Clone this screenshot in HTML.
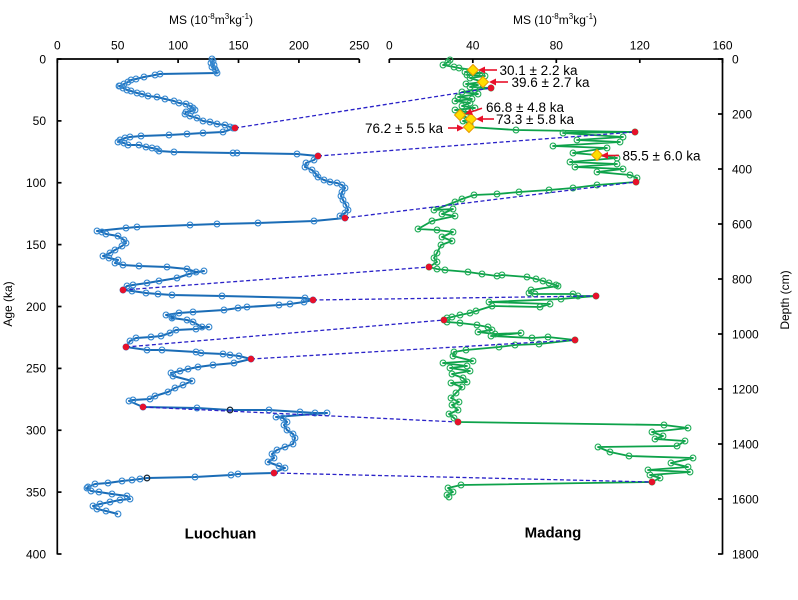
<!DOCTYPE html>
<html><head><meta charset="utf-8">
<style>
html,body{margin:0;padding:0;background:#fff;}
svg{display:block;font-family:"Liberation Sans",Arial,sans-serif;}
</style></head>
<body>
<svg width="798" height="600" viewBox="0 0 798 600" xmlns="http://www.w3.org/2000/svg">
<defs>
<marker id="mb" markerUnits="userSpaceOnUse" markerWidth="9" markerHeight="9" refX="4.5" refY="4.5" viewBox="0 0 9 9">
<circle cx="4.5" cy="4.5" r="2.9" fill="none" stroke="#3688d0" stroke-width="1.1"/>
</marker>
<marker id="mg" markerUnits="userSpaceOnUse" markerWidth="9" markerHeight="9" refX="4.5" refY="4.5" viewBox="0 0 9 9">
<circle cx="4.5" cy="4.5" r="2.9" fill="none" stroke="#22ad58" stroke-width="1.1"/>
</marker>
</defs>
<rect width="798" height="600" fill="#fff"/>

<!-- Titles -->
<text x="211" y="24" font-size="12" text-anchor="middle">MS (10<tspan font-size="8" dy="-5">-8</tspan><tspan dy="5">m</tspan><tspan font-size="8" dy="-5">3</tspan><tspan dy="5">kg</tspan><tspan font-size="8" dy="-5">-1</tspan><tspan dy="5">)</tspan></text>
<text x="555" y="24" font-size="12" text-anchor="middle">MS (10<tspan font-size="8" dy="-5">-8</tspan><tspan dy="5">m</tspan><tspan font-size="8" dy="-5">3</tspan><tspan dy="5">kg</tspan><tspan font-size="8" dy="-5">-1</tspan><tspan dy="5">)</tspan></text>
<text transform="translate(12,304) rotate(-90)" font-size="12" text-anchor="middle">Age (ka)</text>
<text transform="translate(789,300) rotate(-90)" font-size="12" text-anchor="middle">Depth (cm)</text>

<!-- Axes -->
<g stroke="#000" stroke-width="1.7" fill="none">
<line x1="57.3" y1="59" x2="359.3" y2="59"/>
<line x1="57.3" y1="58.2" x2="57.3" y2="554.5"/>
<line x1="389.3" y1="59" x2="723.3" y2="59"/>
<line x1="722.5" y1="58.2" x2="722.5" y2="554.5"/>
<line x1="57.3" y1="59" x2="57.3" y2="63"/>
<line x1="117.7" y1="59" x2="117.7" y2="63"/>
<line x1="178.1" y1="59" x2="178.1" y2="63"/>
<line x1="238.5" y1="59" x2="238.5" y2="63"/>
<line x1="298.9" y1="59" x2="298.9" y2="63"/>
<line x1="359.3" y1="59" x2="359.3" y2="63"/>
<line x1="389.3" y1="59" x2="389.3" y2="63"/>
<line x1="472.8" y1="59" x2="472.8" y2="63"/>
<line x1="556.3" y1="59" x2="556.3" y2="63"/>
<line x1="639.8" y1="59" x2="639.8" y2="63"/>
<line x1="722.5" y1="59" x2="722.5" y2="63"/>
<line x1="57.3" y1="59" x2="61.5" y2="59"/>
<line x1="57.3" y1="120.9" x2="61.5" y2="120.9"/>
<line x1="57.3" y1="182.75" x2="61.5" y2="182.75"/>
<line x1="57.3" y1="244.6" x2="61.5" y2="244.6"/>
<line x1="57.3" y1="306.5" x2="61.5" y2="306.5"/>
<line x1="57.3" y1="368.4" x2="61.5" y2="368.4"/>
<line x1="57.3" y1="430.25" x2="61.5" y2="430.25"/>
<line x1="57.3" y1="492.1" x2="61.5" y2="492.1"/>
<line x1="57.3" y1="554" x2="61.5" y2="554"/>
<line x1="718" y1="59" x2="722.5" y2="59"/>
<line x1="718" y1="114" x2="722.5" y2="114"/>
<line x1="718" y1="169" x2="722.5" y2="169"/>
<line x1="718" y1="224" x2="722.5" y2="224"/>
<line x1="718" y1="279" x2="722.5" y2="279"/>
<line x1="718" y1="334" x2="722.5" y2="334"/>
<line x1="718" y1="389" x2="722.5" y2="389"/>
<line x1="718" y1="444" x2="722.5" y2="444"/>
<line x1="718" y1="499" x2="722.5" y2="499"/>
<line x1="718" y1="554" x2="722.5" y2="554"/>
</g>

<!-- tick labels -->
<g font-size="12" text-anchor="middle" fill="#000">
<text x="57.3" y="49.5">0</text>
<text x="117.7" y="49.5">50</text>
<text x="178.1" y="49.5">100</text>
<text x="238.5" y="49.5">150</text>
<text x="298.9" y="49.5">200</text>
<text x="359.3" y="49.5">250</text>
<text x="389.3" y="49.5">0</text>
<text x="472.8" y="49.5">40</text>
<text x="556.3" y="49.5">80</text>
<text x="639.8" y="49.5">120</text>
<text x="722.5" y="49.5">160</text>
</g>
<g font-size="12" text-anchor="end" fill="#000">
<text x="46" y="63.3">0</text>
<text x="46" y="125.2">50</text>
<text x="46" y="187">100</text>
<text x="46" y="248.9">150</text>
<text x="46" y="310.8">200</text>
<text x="46" y="372.7">250</text>
<text x="46" y="434.5">300</text>
<text x="46" y="496.4">350</text>
<text x="46" y="558.3">400</text>
</g>
<g font-size="12" text-anchor="start" fill="#000">
<text x="732" y="63.3">0</text>
<text x="732" y="118.3">200</text>
<text x="732" y="173.3">400</text>
<text x="732" y="228.3">600</text>
<text x="732" y="283.3">800</text>
<text x="732" y="338.3">1000</text>
<text x="732" y="393.3">1200</text>
<text x="732" y="448.3">1400</text>
<text x="732" y="503.3">1600</text>
<text x="732" y="558.3">1800</text>
</g>

<!-- Luochuan series -->
<polyline fill="none" stroke="#1a6cb6" stroke-width="2" stroke-linejoin="round" marker-start="url(#mb)" marker-mid="url(#mb)" marker-end="url(#mb)" points="
212,59 213,61 211,63 214,65 212,67 215,69 216,71 217,73
160,74 155,75 144,77 136,79 131,80 128,82 124,84 120,86 119,86
123,88 127,90 131,91 137,93 142,94 148,96 157,97 165,99 174,101 179,103 186,104 190,106 193,108 195,110 192,111 186,112 185,114 190,116 197,118 203,121 210,122 217,124 225,125 230,127 233,128 235,128
223,132 203,133 187,134 169,135 141,136 130,137 125,138 120,140 118,142 124,143 128,145 139,145 146,147 152,148 157,149 159,151 174,152 233,153 237,153 297,154 318,156
314,160 306,163 305,167 312,170 316,174 318,177 324,180 330,182 337,183 342,185 345,188 342,192 341,196 343,200 346,205 348,210 345,213 340,216 345,218
314,221 258,223 217,224 190,225 137,227 126,228 97,231
102,232 106,234 118,236 124,240 126,243 122,246 115,250 110,253 103,256 109,258 118,260 115,263 123,265 139,266 167,267 187,269 196,272 204,271 189,274 177,278 159,281 147,283 133,285 127,286 123,290
132,291 146,293 158,294 172,295 222,296 305,298 313,300
304,302 290,304 279,305 247,307 238,308 224,310 193,312 179,313 166,315 173,317 172,318 187,320 193,322 202,327 209,327 196,329 176,330 170,333 161,336 151,337 136,338 130,341 126,347
147,350 162,350 196,352 201,353 223,354 230,355 239,356 251,359
234,363 213,365 198,367 188,369 180,371 171,373 173,376 192,381 183,385 175,388 168,392 155,396 150,399 133,400 129,401 143,407
197,408 230,410 269,410 300,412 315,413 327,413
276,417 283,418 287,422 284,425 287,430 293,434 295,438 293,444 285,447 277,450 272,454 274,458 268,462 279,466 285,468 274,473
238,474 231,475 195,477 147,478 140,479 132,480 122,481 108,483 95,484 88,487 87,488 91,491 99,492 112,494 127,496 130,499 120,500 110,502 100,504 93,506 97,509 106,511 118,514"/>
<circle cx="230" cy="410" r="2.8" fill="none" stroke="#222" stroke-width="1.1"/>
<circle cx="147" cy="478" r="2.8" fill="none" stroke="#222" stroke-width="1.1"/>

<!-- Madang series -->
<polyline fill="none" stroke="#0da24a" stroke-width="1.8" stroke-linejoin="round" marker-start="url(#mg)" marker-mid="url(#mg)" marker-end="url(#mg)" points="
450,60 448,62 443,65 454,67 459,68 473,70
465,72 482,73 467,75 485,76 470,78 483,82 466,84 478,85 470,87 491,88
475,90 462,92 478,94 458,97 472,99 455,101 470,103 462,106 475,108 455,110 468,112 460,115 471,119 463,121 470,124 469,127
516,130 635,132
563,133 623,137 577,140 620,142 553,146 607,148 573,153 597,155 617,158 570,162 617,164 575,167 623,169 597,172 630,175 637,178 636,182
597,185 573,188 549,190 519,192 497,194 474,195 462,199 455,202 434,210 453,209 442,214 455,216 432,221 418,229 437,230 453,232 442,237 452,241 441,245 437,253 434,258 437,262 429,267
437,269 445,270 468,272 482,274 497,276 502,275 527,277 536,279 543,281 549,283 556,285 558,286 531,290 529,293 535,294 573,294 578,296 596,296
561,299 489,302 550,304 540,307 492,306 476,311 470,313 460,315 452,317 447,318 444,320
447,322 460,323 477,325 488,327 492,330 478,332 495,334 521,333 491,336 532,338 548,337 575,340
539,344 515,345 499,347 466,350 454,352 453,356 473,361 443,363 467,366 450,368 470,371 452,374 463,378 467,382 451,383 462,387 456,393 451,398 459,402 452,405 458,410 449,414 454,418 458,422
664,425 688,428 652,432 663,436 655,439 685,441 677,446 598,447 610,452 629,456 693,458 671,463 688,467 648,470 690,472 650,475 660,478 652,482
461,485 448,488 453,492 447,495 449,497"/>

<!-- dashed tie lines -->
<g stroke="#2a22c8" stroke-width="1.3" stroke-dasharray="4,2.5" fill="none">
<line x1="235" y1="128" x2="491" y2="88"/>
<line x1="318" y1="156" x2="635" y2="132"/>
<line x1="345" y1="218" x2="636" y2="182"/>
<line x1="123" y1="290" x2="429" y2="267"/>
<line x1="313" y1="300" x2="596" y2="296"/>
<line x1="126" y1="347" x2="444" y2="320"/>
<line x1="251" y1="359" x2="575" y2="340"/>
<line x1="143" y1="407" x2="458" y2="422"/>
<line x1="274" y1="473" x2="652" y2="482"/>
</g>

<!-- red tie points -->
<g fill="#e8102a">
<circle cx="235" cy="128" r="3.2"/>
<circle cx="318" cy="156" r="3.2"/>
<circle cx="345" cy="218" r="3.2"/>
<circle cx="123" cy="290" r="3.2"/>
<circle cx="313" cy="300" r="3.2"/>
<circle cx="126" cy="347" r="3.2"/>
<circle cx="251" cy="359" r="3.2"/>
<circle cx="143" cy="407" r="3.2"/>
<circle cx="274" cy="473" r="3.2"/>
<circle cx="491" cy="88" r="3.2"/>
<circle cx="635" cy="132" r="3.2"/>
<circle cx="636" cy="182" r="3.2"/>
<circle cx="429" cy="267" r="3.2"/>
<circle cx="596" cy="296" r="3.2"/>
<circle cx="444" cy="320" r="3.2"/>
<circle cx="575" cy="340" r="3.2"/>
<circle cx="458" cy="422" r="3.2"/>
<circle cx="652" cy="482" r="3.2"/>
</g>

<!-- OSL diamonds -->
<g fill="#ffdd00" stroke="#e89a00" stroke-width="1">
<polygon points="473,64.5 478.5,70 473,75.5 467.5,70"/>
<polygon points="483,76.5 488.5,82 483,87.5 477.5,82"/>
<polygon points="460,109.5 465.5,115 460,120.5 454.5,115"/>
<polygon points="471,113.5 476.5,119 471,124.5 465.5,119"/>
<polygon points="469,121.5 474.5,127 469,132.5 463.5,127"/>
<polygon points="597,149.5 602.5,155 597,160.5 591.5,155"/>
</g>

<!-- arrows -->
<g stroke="#e8102a" stroke-width="1.6" fill="none">
<line x1="497" y1="70" x2="483" y2="70"/>
<line x1="508" y1="82" x2="494" y2="82"/>
<line x1="482" y1="108.3" x2="470" y2="112.3"/>
<line x1="494" y1="119" x2="481" y2="119"/>
<line x1="448" y1="128" x2="459" y2="128"/>
<line x1="619" y1="155.5" x2="606" y2="155.5"/>
</g>
<g fill="#e8102a">
<polygon points="478,70 485,66.5 485,73.5"/>
<polygon points="489,82 496,78.5 496,85.5"/>
<polygon points="465,114 470.5,108.5 473,115"/>
<polygon points="476,119 483,115.5 483,122.5"/>
<polygon points="464,128 457,124.5 457,131.5"/>
<polygon points="601,155.5 608,152 608,159"/>
</g>

<!-- annotation text -->
<g font-size="13.5" fill="#000">
<text x="499.5" y="74.8">30.1 ± 2.2 ka</text>
<text x="511.5" y="86.8">39.6 ± 2.7 ka</text>
<text x="486" y="112.2">66.8 ± 4.8 ka</text>
<text x="496" y="124.2">73.3 ± 5.8 ka</text>
<text x="443" y="133" text-anchor="end">76.2 ± 5.5 ka</text>
<text x="622.5" y="160.5">85.5 ± 6.0 ka</text>
</g>

<text x="220.5" y="538.5" font-size="15" font-weight="bold" text-anchor="middle">Luochuan</text>
<text x="553" y="537.5" font-size="15" font-weight="bold" text-anchor="middle">Madang</text>
</svg>
</body></html>
